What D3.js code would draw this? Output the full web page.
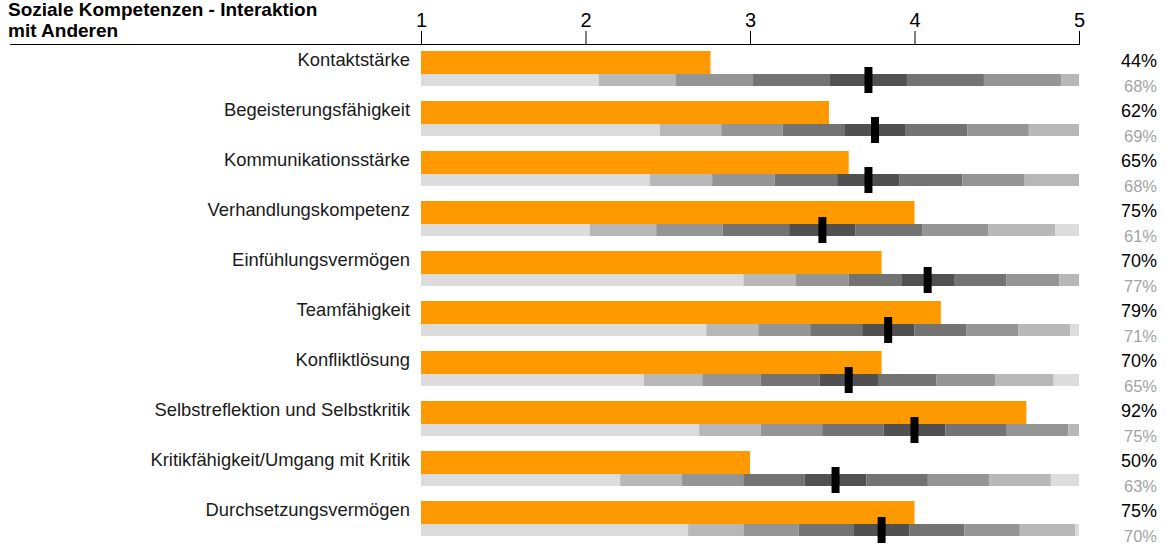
<!DOCTYPE html>
<html>
<head>
<meta charset="utf-8">
<script src="https://cdn.jsdelivr.net/npm/d3@7/dist/d3.min.js"></script>
<style>
  html, body { margin: 0; padding: 0; background: #fff; }
  svg { display: block; font-family: "Liberation Sans", Arial, sans-serif; }
</style>
</head>
<body>
<svg id="chart" width="1166" height="545"></svg>
<script>
// Competence items, own rating (orange bar) and group average (black marker)
const categories = [
  "Kontaktstärke",
  "Begeisterungsfähigkeit",
  "Kommunikationsstärke",
  "Verhandlungskompetenz",
  "Einfühlungsvermögen",
  "Teamfähigkeit",
  "Konfliktlösung",
  "Selbstreflektion und Selbstkritik",
  "Kritikfähigkeit/Umgang mit Kritik",
  "Durchsetzungsvermögen"
];
const ownPct  = [44, 62, 65, 75, 70, 79, 70, 92, 50, 75];
const meanPct = [68, 69, 68, 61, 77, 71, 65, 75, 63, 70];
// spread of the group ratings (one band width, in percent points)
const spreadPct = [11.7, 9.35, 9.5, 10.1, 8.0, 7.9, 8.9, 9.35, 9.35, 8.4];
const tickValues = [1, 2, 3, 4, 5];
const titleLines = ["Soziale Kompetenzen - Interaktion", "mit Anderen"];

// percent -> 1..5 score
const toScore = p => 1 + 4 * p / 100;

const svg = d3.select("#chart");
const x = d3.scaleLinear().domain([1, 5]).range([421, 1079]);
const rowTop = i => 51 + 50 * i;

// title
svg.append("g").selectAll("text").data(titleLines).join("text")
  .attr("x", 8).attr("y", (d, i) => 16 + i * 21)
  .attr("font-size", 19).attr("font-weight", "bold").attr("fill", "#000")
  .text(d => d);

// top axis
const axis = svg.append("g").attr("transform", "translate(0,44)")
  .call(d3.axisTop(x).tickValues(tickValues).tickFormat(d3.format("d")).tickSize(13).tickPadding(4));
axis.select(".domain").remove();
axis.selectAll(".tick line").attr("stroke", "#000");
axis.selectAll(".tick text").attr("font-size", 20).attr("fill", "#000")
  .attr("font-family", "'Liberation Sans', Arial, sans-serif");
svg.append("line").attr("x1", 10).attr("x2", 1080).attr("y1", 44.5).attr("y2", 44.5)
  .attr("stroke", "#000").attr("stroke-width", 1.2);

// grey distribution bands: centred on the average, symmetric steps of one spread
const bandColors = ["#dcdcdc", "#b8b8b8", "#959595", "#737373", "#505050", "#737373", "#959595", "#b8b8b8", "#dcdcdc"];
const bandEdges = [-Infinity, -3.5, -2.5, -1.5, -0.5, 0.5, 1.5, 2.5, 3.5, Infinity];

const rows = svg.append("g").selectAll("g").data(categories).join("g")
  .attr("transform", (d, i) => `translate(0,${rowTop(i)})`);

rows.each(function (cat, i) {
  const g = d3.select(this);
  const m = meanPct[i], s = spreadPct[i];
  const bands = bandColors.map((c, k) => {
    const lo = Math.max(0, Math.min(100, m + bandEdges[k] * s));
    const hi = Math.max(0, Math.min(100, m + bandEdges[k + 1] * s));
    return { c, lo, hi };
  }).filter(b => b.hi > b.lo);

  g.selectAll("rect.band").data(bands).join("rect").attr("class", "band")
    .attr("x", b => x(toScore(b.lo))).attr("width", b => x(toScore(b.hi)) - x(toScore(b.lo)))
    .attr("y", 23).attr("height", 12).attr("fill", b => b.c);

  g.append("rect")
    .attr("x", x(1)).attr("width", x(toScore(ownPct[i])) - x(1))
    .attr("y", 0).attr("height", 23).attr("fill", "#ff9900");

  g.append("rect")
    .attr("x", x(toScore(m)) - 4).attr("width", 8)
    .attr("y", 16).attr("height", 26).attr("fill", "#000");

  g.append("text").attr("x", 410).attr("y", 15).attr("text-anchor", "end")
    .attr("font-size", 18.4).attr("fill", "#1a1a1a").text(cat);

  g.append("text").attr("x", 1157).attr("y", 15.5).attr("text-anchor", "end")
    .attr("font-size", 18).attr("fill", "#000").text(ownPct[i] + "%");

  g.append("text").attr("x", 1157).attr("y", 40.5).attr("text-anchor", "end")
    .attr("font-size", 16.5).attr("fill", "#a3a3a3").text(m + "%");
});
</script>
</body>
</html>
